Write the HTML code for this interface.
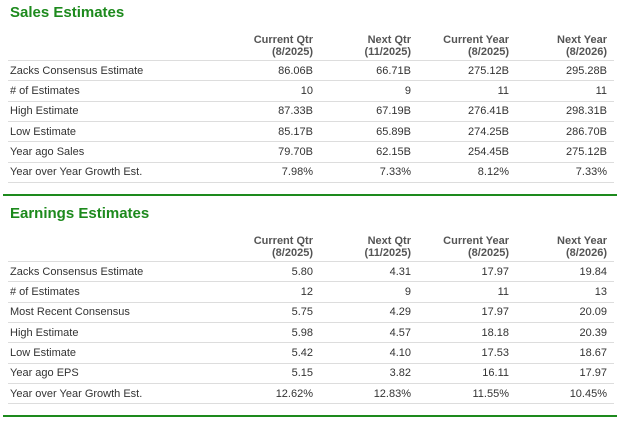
<!DOCTYPE html>
<html><head><style>
body{margin:0;width:620px;height:423px;background:#fff;font-family:"Liberation Sans",sans-serif;position:relative;overflow:hidden;color:#333}
.t{position:absolute;left:10px;font-weight:bold;font-size:15px;color:#1d8a1d}
.h,.r{position:absolute;left:0;width:620px;font-size:11px}
.h span,.r span{position:absolute;text-align:right;width:90px}
.h{font-weight:bold;color:#555;line-height:12px}
.r .l{left:10px;text-align:left;width:200px}
.c1{left:223px}.c2{left:321px}.c3{left:419px}.c4{left:517px}
.line{position:absolute;left:8px;width:606px;height:1px;background:#ddd}
.g{position:absolute;left:3px;width:614px;height:2px;background:#1d8a1d}
</style></head><body>
<div class="t" style="top:4px">Sales Estimates</div>
<div class="h" style="top:34px"><span class="c1">Current Qtr<br>(8/2025)</span><span class="c2">Next Qtr<br>(11/2025)</span><span class="c3">Current Year<br>(8/2025)</span><span class="c4">Next Year<br>(8/2026)</span></div>
<div class="line" style="top:60px"></div>
<div class="r" style="top:65px"><span class="l">Zacks Consensus Estimate</span><span class="c1">86.06B</span><span class="c2">66.71B</span><span class="c3">275.12B</span><span class="c4">295.28B</span></div>
<div class="line" style="top:80px"></div>
<div class="r" style="top:85px"><span class="l"># of Estimates</span><span class="c1">10</span><span class="c2">9</span><span class="c3">11</span><span class="c4">11</span></div>
<div class="line" style="top:101px"></div>
<div class="r" style="top:105px"><span class="l">High Estimate</span><span class="c1">87.33B</span><span class="c2">67.19B</span><span class="c3">276.41B</span><span class="c4">298.31B</span></div>
<div class="line" style="top:121px"></div>
<div class="r" style="top:126px"><span class="l">Low Estimate</span><span class="c1">85.17B</span><span class="c2">65.89B</span><span class="c3">274.25B</span><span class="c4">286.70B</span></div>
<div class="line" style="top:141px"></div>
<div class="r" style="top:146px"><span class="l">Year ago Sales</span><span class="c1">79.70B</span><span class="c2">62.15B</span><span class="c3">254.45B</span><span class="c4">275.12B</span></div>
<div class="line" style="top:162px"></div>
<div class="r" style="top:166px"><span class="l">Year over Year Growth Est.</span><span class="c1">7.98%</span><span class="c2">7.33%</span><span class="c3">8.12%</span><span class="c4">7.33%</span></div>
<div class="line" style="top:182px"></div>
<div class="g" style="top:194px"></div>
<div class="t" style="top:205px">Earnings Estimates</div>
<div class="h" style="top:235px"><span class="c1">Current Qtr<br>(8/2025)</span><span class="c2">Next Qtr<br>(11/2025)</span><span class="c3">Current Year<br>(8/2025)</span><span class="c4">Next Year<br>(8/2026)</span></div>
<div class="line" style="top:261px"></div>
<div class="r" style="top:266px"><span class="l">Zacks Consensus Estimate</span><span class="c1">5.80</span><span class="c2">4.31</span><span class="c3">17.97</span><span class="c4">19.84</span></div>
<div class="line" style="top:281px"></div>
<div class="r" style="top:286px"><span class="l"># of Estimates</span><span class="c1">12</span><span class="c2">9</span><span class="c3">11</span><span class="c4">13</span></div>
<div class="line" style="top:302px"></div>
<div class="r" style="top:306px"><span class="l">Most Recent Consensus</span><span class="c1">5.75</span><span class="c2">4.29</span><span class="c3">17.97</span><span class="c4">20.09</span></div>
<div class="line" style="top:322px"></div>
<div class="r" style="top:327px"><span class="l">High Estimate</span><span class="c1">5.98</span><span class="c2">4.57</span><span class="c3">18.18</span><span class="c4">20.39</span></div>
<div class="line" style="top:342px"></div>
<div class="r" style="top:347px"><span class="l">Low Estimate</span><span class="c1">5.42</span><span class="c2">4.10</span><span class="c3">17.53</span><span class="c4">18.67</span></div>
<div class="line" style="top:363px"></div>
<div class="r" style="top:367px"><span class="l">Year ago EPS</span><span class="c1">5.15</span><span class="c2">3.82</span><span class="c3">16.11</span><span class="c4">17.97</span></div>
<div class="line" style="top:383px"></div>
<div class="r" style="top:388px"><span class="l">Year over Year Growth Est.</span><span class="c1">12.62%</span><span class="c2">12.83%</span><span class="c3">11.55%</span><span class="c4">10.45%</span></div>
<div class="line" style="top:403px"></div>
<div class="g" style="top:415px"></div>
</body></html>
